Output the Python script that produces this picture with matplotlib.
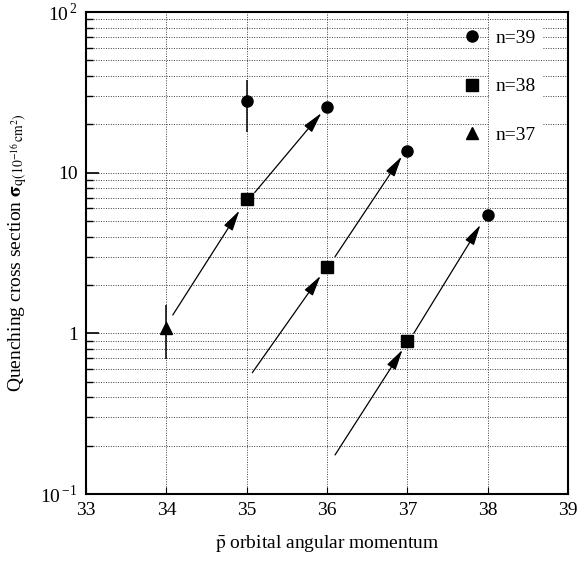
import numpy as np
import matplotlib
matplotlib.use("Agg")
from matplotlib import pyplot as plt
from matplotlib.ticker import FixedLocator, LogLocator, NullFormatter

plt.rcParams['font.family'] = ['Liberation Serif', 'DejaVu Serif']
plt.rcParams['mathtext.fontset'] = 'stix'

# data
n39_x = [35, 36, 37, 38]
n39_y = [28.1, 25.6, 13.6, 5.43]
n38_x = [35, 36, 37]
n38_y = [6.82, 2.60, 0.90]
n37_x = [34]
n37_y = [1.08]

# error bars (low, high)
n39_err_x = [35]
n39_err_lo = [18.0]
n39_err_hi = [37.8]
n37_err_x = [34]
n37_err_lo = [0.69]
n37_err_hi = [1.50]

# arrows: start (x, y) -> tip (x, y)
arrow_x0 = [34.08, 35.10, 35.07, 36.10, 36.10, 37.08]
arrow_y0 = [1.30, 7.52, 0.569, 3.0, 0.175, 1.0]
arrow_x1 = [34.91, 35.93, 35.92, 36.93, 36.94, 37.91]
arrow_y1 = [5.81, 23.5, 2.28, 12.6, 0.79, 4.73]

fig = plt.figure(figsize=(5.79, 5.65), dpi=100)
ax = fig.add_axes([86/579, 1-494/565, (568-86)/579, (494-12)/565])

ax.set_xlim(33, 39)
ax.set_yscale('log')
ax.set_ylim(0.1, 100)

ax.grid(True, which='major', axis='x', linestyle=(0, (1, 1.5)), color='0.25', lw=0.7)
ax.grid(True, which='both', axis='y', linestyle=(0, (1, 1.5)), color='0.25', lw=0.7)

for x0, y0, x1, y1 in zip(arrow_x0, arrow_y0, arrow_x1, arrow_y1):
    ax.annotate('', xy=(x1, y1), xytext=(x0, y0),
                arrowprops=dict(arrowstyle='-|>,head_length=0.9,head_width=0.22',
                                color='black', lw=0.9, shrinkA=0, shrinkB=0,
                                mutation_scale=14))

ax.vlines(n39_err_x, n39_err_lo, n39_err_hi, color='black', lw=1.1)
ax.vlines(n37_err_x, n37_err_lo, n37_err_hi, color='black', lw=1.1)

ax.plot(n39_x, n39_y, 'o', color='black', ms=8, label='n=39', zorder=5)
ax.plot(n38_x, n38_y, 's', color='black', ms=8, label='n=38', zorder=5)
ax.plot(n37_x, n37_y, '^', color='black', ms=8, label='n=37', zorder=5)

ax.set_xticks([33, 34, 35, 36, 37, 38, 39])
ax.tick_params(axis='x', labelsize=14, direction='in', length=5, pad=6)
ax.yaxis.set_major_locator(FixedLocator([0.1, 1, 10, 100]))
ax.set_yticklabels([r'10$^{\,\mathregular{-1}}$', '1', '10', r'10$^{\,\mathregular{2}}$'])
ax.yaxis.set_minor_locator(LogLocator(base=10, subs=np.arange(2, 10)))
ax.yaxis.set_minor_formatter(NullFormatter())
ax.tick_params(axis='y', which='major', labelsize=14, direction='in', length=9, width=1.2, pad=6)
ax.tick_params(axis='y', which='minor', direction='in', length=5, width=1.0)
for s in ax.spines.values():
    s.set_linewidth(1.5)

ax.set_xlabel(r'$\bar{\mathrm{p}}$ orbital angular momentum', fontsize=14, labelpad=10)
ax.set_ylabel(r'Quenching cross section $\mathbf{\sigma}_{\mathrm{q(10^{-16}\,cm^{2})}}$',
              fontsize=14, labelpad=8)

leg = ax.legend(loc='upper right', frameon=False, fontsize=14, labelspacing=1.6,
                handletextpad=0.2, borderaxespad=0.6, bbox_to_anchor=(0.973, 1.005))
for t in leg.get_texts():
    t.set_backgroundcolor('white')

fig.savefig('out.png', dpi=100)
